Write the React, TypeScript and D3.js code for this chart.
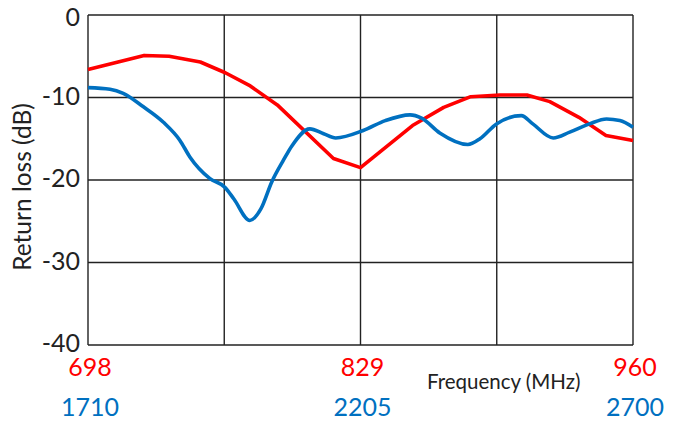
import React, { useEffect, useRef } from 'react';
import * as d3 from 'd3';

// Low band (red), frequency in MHz vs return loss in dB
const lowBandFreq = [698, 725, 737, 752, 764, 776, 789, 816, 829, 854, 869, 882, 896, 909, 920, 934, 947, 960];
const lowBandLoss = [-6.6, -4.9, -5.0, -5.7, -7.0, -8.6, -10.9, -17.4, -18.5, -13.4, -11.2, -9.9, -9.7, -9.7, -10.5, -12.4, -14.6, -15.2];

// High band (blue)
const highBandFreq = [1710, 1750, 1774, 1810, 1847, 1877, 1895, 1931, 1959, 1975, 2004, 2024, 2044, 2065, 2080, 2113, 2138, 2160, 2210, 2250, 2295, 2316, 2349, 2400, 2422, 2452, 2497, 2518, 2555, 2585, 2621, 2652, 2676, 2700];
const highBandLoss = [-8.8, -9.0, -9.5, -11.1, -13.0, -15.2, -17.2, -19.8, -20.9, -22.3, -24.9, -23.5, -20.2, -17.6, -15.9, -13.8, -14.4, -14.9, -14.0, -12.8, -12.1, -12.5, -14.3, -15.7, -15.0, -13.2, -12.2, -13.2, -14.9, -14.2, -13.2, -12.6, -12.8, -13.6];

const yTicks = [0, -10, -20, -30, -40];
const lowBandTicks = [698, 829, 960];
const highBandTicks = [1710, 2205, 2700];

const WIDTH = 673;
const HEIGHT = 445;
const FONT = 'Lato, "Open Sans", sans-serif';

const ReturnLossChart: React.FC = () => {
    const svgRef = useRef<SVGSVGElement>(null);

    useEffect(() => {
        if (!svgRef.current) return;
        const svg = d3.select(svgRef.current);
        svg.selectAll('*').remove();

        const left = 88, right = 633, top = 15, bottom = 345;

        const xLow = d3.scaleLinear().domain([698, 960]).range([left, right]);
        const xHigh = d3.scaleLinear().domain([1710, 2700]).range([left, right]);
        const y = d3.scaleLinear().domain([-40, 0]).range([bottom, top]);

        svg.append('rect')
            .attr('width', WIDTH)
            .attr('height', HEIGHT)
            .attr('fill', '#fff');

        // grid: horizontal on y ticks, vertical at quarters
        const grid = svg.append('g').attr('stroke', '#222').attr('stroke-width', 1.4);
        grid.selectAll('line.h')
            .data(yTicks)
            .enter()
            .append('line')
            .attr('x1', left)
            .attr('x2', right)
            .attr('y1', d => y(d))
            .attr('y2', d => y(d));
        grid.selectAll('line.v')
            .data(d3.range(5).map(i => 698 + (i * 262) / 4))
            .enter()
            .append('line')
            .attr('x1', d => xLow(d))
            .attr('x2', d => xLow(d))
            .attr('y1', top)
            .attr('y2', bottom);

        // y tick labels (top one nudged down so it is not clipped)
        svg.append('g')
            .selectAll('text')
            .data(yTicks)
            .enter()
            .append('text')
            .attr('x', 80)
            .attr('y', d => Math.max(y(d) + 1, 20))
            .attr('text-anchor', 'end')
            .attr('dominant-baseline', 'middle')
            .attr('font-family', FONT)
            .attr('font-size', 25)
            .attr('fill', '#222')
            .text(d => d);

        svg.append('text')
            .attr('transform', 'translate(25,187) rotate(-90)')
            .attr('text-anchor', 'middle')
            .attr('dominant-baseline', 'middle')
            .attr('font-family', FONT)
            .attr('font-size', 24.5)
            .attr('fill', '#222')
            .text('Return loss (dB)');

        // x tick labels for both bands
        svg.append('g')
            .selectAll('text')
            .data(lowBandTicks)
            .enter()
            .append('text')
            .attr('x', d => xLow(d) + 2)
            .attr('y', 370)
            .attr('text-anchor', 'middle')
            .attr('dominant-baseline', 'middle')
            .attr('font-family', FONT)
            .attr('font-size', 25)
            .attr('fill', '#ff0000')
            .text(d => d);

        svg.append('g')
            .selectAll('text')
            .data(highBandTicks)
            .enter()
            .append('text')
            .attr('x', d => xHigh(d) + 2)
            .attr('y', 410)
            .attr('text-anchor', 'middle')
            .attr('dominant-baseline', 'middle')
            .attr('font-family', FONT)
            .attr('font-size', 25)
            .attr('fill', '#0070c0')
            .text(d => d);

        svg.append('text')
            .attr('x', 427)
            .attr('y', 384)
            .attr('dominant-baseline', 'middle')
            .attr('font-family', FONT)
            .attr('font-size', 20.5)
            .attr('fill', '#222')
            .text('Frequency (MHz)');

        // curves
        const lowLine = d3.line<number>()
            .x((_, i) => xLow(lowBandFreq[i]))
            .y(d => y(d));
        svg.append('path')
            .datum(lowBandLoss)
            .attr('d', lowLine)
            .attr('fill', 'none')
            .attr('stroke', '#ff0000')
            .attr('stroke-width', 3.6)
            .attr('stroke-linejoin', 'round');

        const highLine = d3.line<number>()
            .x((_, i) => xHigh(highBandFreq[i]))
            .y(d => y(d))
            .curve(d3.curveMonotoneX);
        svg.append('path')
            .datum(highBandLoss)
            .attr('d', highLine)
            .attr('fill', 'none')
            .attr('stroke', '#0070c0')
            .attr('stroke-width', 3.6)
            .attr('stroke-linejoin', 'round');
    }, []);

    return (
        <svg
            ref={svgRef}
            width={WIDTH}
            height={HEIGHT}
            style={{ position: 'absolute', left: 0, top: 0, display: 'block' }}
        />
    );
};

export default function App() {
    return <ReturnLossChart />;
}
